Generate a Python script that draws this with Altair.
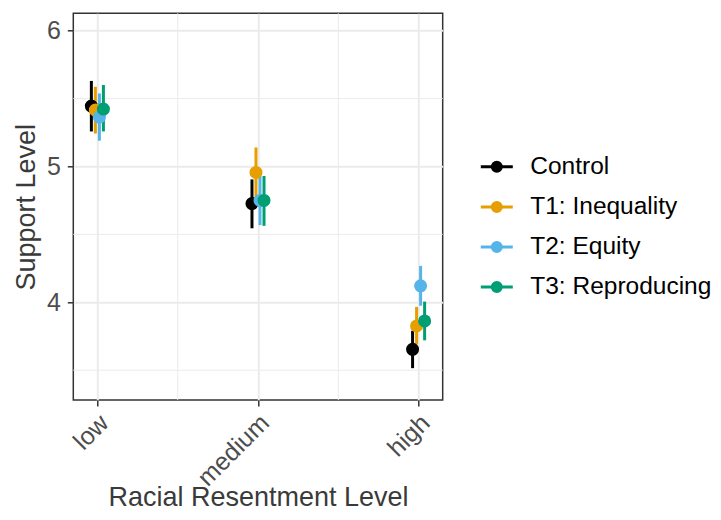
import altair as alt
import pandas as pd

levels = ["low", "medium", "high"]
groups = ["Control", "T1: Inequality", "T2: Equity", "T3: Reproducing"]
colors = ["#000000", "#E69F00", "#56B4E9", "#009E73"]

mean_control = [5.445, 4.727, 3.654]
low_control = [5.258, 4.545, 3.515]
high_control = [5.630, 4.905, 3.790]

mean_t1 = [5.415, 4.956, 3.826]
low_t1 = [5.243, 4.770, 3.690]
high_t1 = [5.587, 5.140, 3.966]

mean_t2 = [5.364, 4.750, 4.121]
low_t2 = [5.190, 4.568, 3.975]
high_t2 = [5.538, 4.930, 4.268]

mean_t3 = [5.423, 4.750, 3.863]
low_t3 = [5.258, 4.563, 3.720]
high_t3 = [5.600, 4.930, 4.005]

dodge = [-0.0375, -0.0125, 0.0125, 0.0375]
x_ticks = [1, 2, 3]
x_minor = [1.5, 2.5]
y_ticks = [4, 5, 6]
y_minor = [3.5, 4.5, 5.5]

means = [mean_control, mean_t1, mean_t2, mean_t3]
lows = [low_control, low_t1, low_t2, low_t3]
highs = [high_control, high_t1, high_t2, high_t3]

rows = []
for gi, g in enumerate(groups):
    for li, lv in enumerate(levels):
        rows.append({
            "group": g,
            "level": lv,
            "xpos": li + 1 + dodge[gi],
            "mean": means[gi][li],
            "lo": lows[gi][li],
            "hi": highs[gi][li],
        })
df = pd.DataFrame(rows)

x_axis = alt.Axis(
    values=x_ticks,
    labelExpr="['', 'low', 'medium', 'high'][datum.value]",
    labelAngle=-45,
    labelAlign="right",
    labelBaseline="top",
    labelOffset=-2,
    labelPadding=4,
    titlePadding=-6,
)
y_axis = alt.Axis(values=y_ticks, labelPadding=7, titlePadding=6)

x_scale = alt.Scale(domain=[0.85, 3.15], nice=False, zero=False)
y_scale = alt.Scale(domain=[3.2806, 6.128], nice=False, zero=False)

X = lambda f: alt.X(f, scale=x_scale, axis=x_axis, title="Racial Resentment Level")
Y = lambda f: alt.Y(f, scale=y_scale, axis=y_axis, title="Support Level")

sym_path = "M-1,0H1M-0.28,0A0.28,0.28,0,1,1,0.28,0A0.28,0.28,0,1,1,-0.28,0Z"
legend = alt.Legend(
    title=None,
    orient="none",
    legendX=406,
    legendY=136,
    symbolType=sym_path,
    symbolSize=1024,
    symbolStrokeWidth=3,
    labelFontSize=24.5,
    labelFont="Liberation Sans",
    labelColor="#000000",
    labelOffset=16,
    labelLimit=0,
    rowPadding=11.1,
    padding=0,
)
color_scale = alt.Scale(domain=groups, range=colors)

minor_x = alt.Chart(pd.DataFrame({"xpos": x_minor})).mark_rule(
    color="#EBEBEB", strokeWidth=1
).encode(x=X("xpos:Q"))
minor_y = alt.Chart(pd.DataFrame({"mean": y_minor})).mark_rule(
    color="#EBEBEB", strokeWidth=1
).encode(y=Y("mean:Q"))

bars = alt.Chart(df).mark_rule(strokeWidth=3).encode(
    x=X("xpos:Q"),
    y=Y("lo:Q"),
    y2="hi:Q",
    stroke=alt.Stroke("group:N", scale=color_scale, legend=legend, sort=groups),
)
points = alt.Chart(df).mark_circle(size=170, opacity=1).encode(
    x=X("xpos:Q"),
    y=Y("mean:Q"),
    fill=alt.Fill("group:N", scale=color_scale, legend=legend, sort=groups),
)

chart = alt.layer(minor_x, minor_y, bars, points).properties(
    width=369.4,
    height=386.7,
    autosize=alt.AutoSizeParams(type="none"),
    padding={"left": 65.3, "top": 5.3, "right": 270, "bottom": 112},
).configure_view(
    stroke="#333333", strokeWidth=1.5
).configure_axis(
    domain=False,
    tickColor="#333333",
    tickWidth=1.5,
    tickSize=6,
    labelFont="Liberation Sans",
    labelFontSize=25,
    labelColor="#4D4D4D",
    titleFont="Liberation Sans",
    titleFontSize=27,
    titleFontWeight="normal",
    titleColor="#3A3A3A",
    grid=True,
    gridColor="#EBEBEB",
    gridWidth=2,
)

chart.save("out.html", embed_options={"renderer": "svg", "actions": False})
